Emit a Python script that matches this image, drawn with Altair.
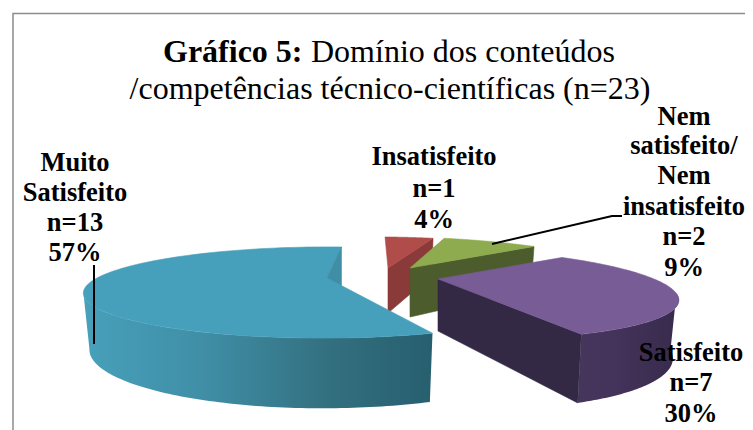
import math
import altair as alt
import pandas as pd

# --- chart values ---
categories = ["Insatisfeito", "Nem satisfeito/ Nem insatisfeito", "Satisfeito", "Muito Satisfeito"]
counts = [1, 2, 7, 13]
top_colors = ["#b04c49", "#8eab4f", "#775c96", "#47a0bb"]
side_colors = ["#8a3a38", "#4d5c2d", "#332944", "#3f8ea6"]

# --- picture geometry (exploded slices, camera) ---
W, H = 737, 422
ROT = 4.0
B, K = 41.0, 0.318
widths = [230.0, 216.0, 216.0, 230.0]
apex = [(388, 268), (410, 268), (438, 279), (327, 278)]
shear = [-20.0, -30.0, -30.0, 3.0]
depth = [45.0, 49.0, 52.0, 52.0]
SIL = math.degrees(math.acos(-K))  # where the side wall meets the silhouette

total = sum(counts)
angles = []
start = ROT
for c in counts:
    end = start + c / total * 360
    angles.append((start, end))
    start = end


def rim(i, deg, bottom=False):
    t = math.radians(deg)
    X, Y = math.sin(t), math.cos(t)
    s = 1 / (1 + K * Y)
    x = (widths[i] * X + shear[i] * Y) * s
    y = -B * Y * s
    if bottom:
        return apex[i][0] + x * 0.975, apex[i][1] + y + depth[i] * (1 + (s - 1) * 0.75)
    return apex[i][0] + x, apex[i][1] + y


def sweep(a, b, n=90):
    return [a + (b - a) * j / n for j in range(n + 1)]


xs = alt.Scale(domain=[8, 8 + W], nice=False, zero=False)
ys = alt.Scale(domain=[8 + H, 8], nice=False, zero=False)
X_ = alt.X("x:Q", scale=xs, axis=None)
Y_ = alt.Y("y:Q", scale=ys, axis=None)


def poly(points, fill):
    pts = list(points) + [points[0]]
    df = pd.DataFrame({"x": [p[0] for p in pts], "y": [p[1] for p in pts], "i": range(len(pts))})
    stroke = fill if isinstance(fill, str) else "#00000000"
    return (
        alt.Chart(df)
        .mark_line(fill=fill, stroke=stroke, strokeWidth=0.6, clip=True)
        .encode(x=X_, y=Y_, order=alt.Order("i:Q"))
    )


def hgrad(stops):
    return alt.Gradient(
        gradient="linear", x1=0, x2=1, y1=0, y2=0,
        stops=[alt.GradientStop(offset=o, color=c) for o, c in stops],
    )


def top_face(i, a, b):
    return [apex[i]] + [rim(i, d) for d in sweep(a, b)]


def inner_wall(i, deg):
    # flat cut face between slice centre and rim, seen from the front
    return [apex[i], rim(i, deg), rim(i, deg, True), (apex[i][0], apex[i][1] + depth[i])]


def outer_wall(i, a, b):
    return [rim(i, d) for d in sweep(a, b)] + [rim(i, d, True) for d in sweep(b, a)]


layers = []

# red slice
a, b = angles[0]
layers.append(poly(inner_wall(0, b), side_colors[0]))
layers.append(poly(top_face(0, a, b), top_colors[0]))

# green slice
a, b = angles[1]
layers.append(poly(inner_wall(1, b), side_colors[1]))
layers.append(poly(top_face(1, a, b), top_colors[1]))

# purple slice
a, b = angles[2]
layers.append(poly(inner_wall(2, b), side_colors[2]))
layers.append(poly(outer_wall(2, SIL, b), hgrad([(0, "#46365c"), (0.4, "#43325a"), (1, "#372b4b")])))
layers.append(poly(top_face(2, a, b), top_colors[2]))

# blue slice
a, b = angles[3]
layers.append(poly(outer_wall(3, a, 360 - SIL), hgrad([(0, "#48a0ba"), (0.35, "#3f8ea6"), (0.7, "#33707f"), (1, "#275f6f")])))
layers.append(poly(top_face(3, a, b), top_colors[3]))
re = rim(3, b)
fe = rim(3, a)
t = (re[0] - apex[3][0]) / (fe[0] - apex[3][0])
cut = (apex[3][0] + (fe[0] - apex[3][0]) * t, apex[3][1] + (fe[1] - apex[3][1]) * t)
layers.append(poly([apex[3], re, cut], side_colors[3]))


def seg(pts, width, color):
    df = pd.DataFrame({"x": [p[0] for p in pts], "y": [p[1] for p in pts], "i": range(len(pts))})
    return (
        alt.Chart(df)
        .mark_line(color=color, strokeWidth=width, clip=True)
        .encode(x=X_, y=Y_, order=alt.Order("i:Q"))
    )


# chart frame and leader lines
layers.append(seg([(13, 430), (13, 13.5), (753, 13.5)], 1.5, "#8c8c8c"))
layers.append(seg([(94, 265), (94, 344)], 2, "#000000"))
layers.append(seg([(492, 244), (612, 216), (622, 216)], 2, "#000000"))

FONT = "Liberation Serif"
title_bold = "Gráfico 5:"
title_rest = "Domínio dos conteúdos"
title_line2 = "/competências técnico-científicas (n=23)"
label_lines = [
    ["Insatisfeito", "n=1", "4%"],
    ["Nem", "satisfeito/", "Nem", "insatisfeito", "n=2", "9%"],
    ["Satisfeito", "n=7", "30%"],
    ["Muito", "Satisfeito", "n=13", "57%"],
]
label_pos = [
    (434, [157, 189, 220]),
    (684, [117, 146, 176, 207, 237, 268]),
    (691, [353, 383, 414]),
    (75, [163, 193, 223, 253]),
]


def text(rows, size, weight, align="center"):
    df = pd.DataFrame(rows, columns=["x", "y", "t"])
    return (
        alt.Chart(df)
        .mark_text(font=FONT, fontSize=size, fontWeight=weight, align=align, baseline="middle", color="#000000")
        .encode(x=X_, y=Y_, text="t:N")
    )


layers.append(text([(163, 52, title_bold)], 32, "bold", "left"))
layers.append(text([(311, 52, title_rest)], 32, "normal", "left"))
layers.append(text([(390, 89, title_line2)], 32, "normal"))
rows = []
for lines, (cx, yy) in zip(label_lines, label_pos):
    rows += [(cx, y, s) for y, s in zip(yy, lines)]
layers.append(text(rows, 26.5, "bold"))

chart = (
    alt.layer(*layers)
    .properties(width=W, height=H, padding=0, autosize=alt.AutoSizeParams(type="none"), background="white")
    .configure_view(stroke=None)
)
chart.save("out.html", embed_options={"renderer": "svg", "actions": False})
